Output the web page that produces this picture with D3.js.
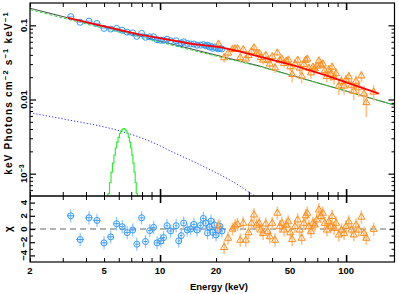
<!DOCTYPE html>
<html>
<head>
<meta charset="utf-8">
<script src="https://cdn.jsdelivr.net/npm/d3@7"></script>
<style>
  body { margin: 0; background: #fff; }
  svg { display: block; font-family: "Liberation Sans", Arial, sans-serif; }
</style>
</head>
<body>
<div id="chart"></div>
<script>
let width = 399;
let height = 294;

// model curves (energy in keV, keV Photons cm^-2 s^-1 keV^-1)
let totalE = [2, 5, 8, 20, 34, 60, 100, 182];
let totalF = [0.170, 0.0951, 0.0705, 0.0397, 0.0284, 0.0188, 0.0130, 0.0084];
let powE = [2, 5, 8, 20, 34, 60, 100, 182];
let powF = [0.163, 0.0908, 0.0678, 0.0385, 0.0280, 0.0187, 0.0130, 0.0084];
let bbE = [2, 3.27, 4.94, 6.06, 8.78, 12, 16.2, 20, 24.4, 31.2, 35];
let bbF = [0.00662, 0.00526, 0.0043, 0.00378, 0.00275, 0.0019, 0.00134, 0.00103, 0.00079, 0.00053, 0.00044];
let gaussE = [5.2, 5.3, 5.4, 5.5, 5.6, 5.7, 5.8, 5.9, 6.0, 6.1, 6.2, 6.3, 6.4, 6.5, 6.6, 6.7, 6.8, 6.9, 7.0, 7.1, 7.2, 7.3, 7.4, 7.5, 7.6];
let gaussF = [0.00037, 0.00054, 0.00076, 0.00105, 0.00139, 0.00178, 0.00222, 0.00266, 0.00309, 0.00348, 0.00378, 0.00397, 0.00404,
              0.00397, 0.00378, 0.00348, 0.00309, 0.00266, 0.00222, 0.00178, 0.00139, 0.00105, 0.00076, 0.00054, 0.00037];
let foldE = [3.2, 7.8, 15, 21, 26.6, 51, 78, 150];
let foldF = [0.126, 0.075, 0.056, 0.051, 0.0447, 0.0294, 0.0212, 0.0120];

// soft band spectrum (blue circles)
let blueE = [3.31, 3.72, 4.15, 4.58, 5.0, 5.43, 5.84, 6.26, 6.66, 7.13, 7.50, 7.96, 8.35, 8.8, 9.24, 9.64, 10.1, 10.45, 10.9, 11.4,
             12.2, 12.6, 13.0, 13.4, 14.0, 14.6, 15.2, 15.8, 16.5, 17.1, 17.6, 18.0, 18.4, 18.8, 19.2, 19.6, 20.0, 20.5, 21.0, 21.5];
let blueDE = [0.15, 0.17, 0.18, 0.2, 0.2, 0.2, 0.2, 0.2, 0.2, 0.2, 0.18, 0.2, 0.2, 0.2, 0.2, 0.2, 0.22, 0.18, 0.2, 0.25,
              0.2, 0.2, 0.2, 0.2, 0.3, 0.3, 0.3, 0.3, 0.3, 0.3, 0.2, 0.2, 0.2, 0.2, 0.2, 0.2, 0.2, 0.25, 0.25, 0.25];
let blueF = [0.131, 0.110, 0.114, 0.106, 0.091, 0.089, 0.091, 0.086, 0.081, 0.079, 0.071, 0.078, 0.069, 0.070, 0.070, 0.064, 0.063, 0.063, 0.065, 0.062,
             0.062, 0.057, 0.058, 0.060, 0.057, 0.056, 0.056, 0.054, 0.054, 0.055, 0.053, 0.054, 0.051, 0.052, 0.049, 0.051, 0.050, 0.048, 0.049, 0.048];
let blueChi = [2.0, -1.6, 1.7, 1.3, -2.1, -1.2, 0.8, 0.35, -0.55, -0.15, -2.3, 1.7, -1.9, -0.25, 0.25, -2.1, -1.8, -1.3, 0.5, -0.3,
               0.5, -1.8, -1.0, 0.9, -0.15, 0.0, 0.7, -0.15, 0.55, 1.6, 0.9, -0.6, 0.3, 1.2, -0.5, 0.6, -0.9, -0.2, 0.4, -0.3];

// hard band spectrum (orange triangles)
let orangeE = [20.6, 22.1, 23.2, 24.5, 25.3, 26.1, 27.0, 28.0, 28.9, 29.9, 31.0, 32.0, 33.0, 34.1, 34.8, 35.8, 37.0, 37.9, 38.9, 40.1,
               41.5, 42.7, 44.0, 45.1, 46.4, 47.7, 48.9, 50.1, 51.3, 53.1, 54.9, 56.3, 57.7, 59.3, 60.6, 61.8, 63.1, 64.7, 66.3, 67.9,
               69.6, 71.4, 73.2, 75.0, 76.8, 78.8, 80.7, 82.7, 84.1, 86.2, 88.3, 91.3, 94.4, 97.5, 99.9, 103.3, 106.8, 109.9, 113.0, 116.9,
               120.8, 124.7, 128.5, 140.6];
let orangeF = [0.0560, 0.0366, 0.0423, 0.0474, 0.0484, 0.0485, 0.0368, 0.0471, 0.0352, 0.0392, 0.0447, 0.0499, 0.0417, 0.0421, 0.0369, 0.0340, 0.0394, 0.0339, 0.0301, 0.0379,
               0.0267, 0.0425, 0.0337, 0.0351, 0.0307, 0.0329, 0.0342, 0.0277, 0.0218, 0.0301, 0.0339, 0.0266, 0.0207, 0.0298, 0.0339, 0.0352, 0.0264, 0.0229, 0.0273, 0.0259,
               0.0282, 0.0332, 0.0291, 0.0302, 0.0245, 0.0205, 0.0251, 0.0217, 0.0273, 0.0198, 0.0223, 0.0152, 0.0175, 0.0152, 0.0183, 0.0203, 0.0156, 0.0129, 0.0176, 0.0144,
               0.0208, 0.0119, 0.0091, 0.0126];
let orangeErr = [0.0054, 0.0051, 0.0049, 0.0047, 0.0046, 0.0045, 0.0044, 0.0043, 0.0042, 0.0042, 0.0049, 0.0048, 0.0047, 0.0046, 0.0045, 0.0044, 0.0043, 0.0043, 0.0042, 0.0041,
                 0.0040, 0.0040, 0.0039, 0.0038, 0.0038, 0.0037, 0.0036, 0.0036, 0.0047, 0.0046, 0.0044, 0.0044, 0.0043, 0.0042, 0.0041, 0.0041, 0.0040, 0.0039, 0.0038, 0.0038,
                 0.0037, 0.0036, 0.0036, 0.0035, 0.0034, 0.0034, 0.0041, 0.0040, 0.0040, 0.0039, 0.0038, 0.0037, 0.0036, 0.0035, 0.0034, 0.0033, 0.0032, 0.0031, 0.0037, 0.0036,
                 0.0035, 0.0034, 0.0033, 0.0030];
let orangeChi = [0.46, -2.8, -1.4, 0, 0.46, 0.7, -1.7, 0.87, -1.7, -0.56, 0.87, 2.14, 0.6, 0.87, -0.15, -0.66, 0.76, -0.4, -1.17, 0.87,
                 -1.7, 2.4, 0.36, 0.87, -0.15, 0.6, 1.1, -0.56, -1.6, 0.36, 1.38, -0.15, -1.4, 0.87, 2.0, 2.4, 0.36, -0.4, 0.87, 0.6,
                 1.38, 2.9, 1.9, 2.4, 0.87, -0.15, 1.1, 0.36, 1.9, 0.1, 0.87, -0.9, -0.15, -0.66, 0.36, 1.1, -0.15, -0.9, 0.6, -0.15,
                 1.8, -0.66, -1.4, -0.05];

// axis ticks and labels
let xMinor = [2, 3, 4, 5, 6, 7, 8, 9, 20, 30, 40, 50, 60, 70, 80, 90];
let xMajor = [10, 100];
let xLabels = [2, 5, 10, 20, 50, 100];
let yMajor = [0.001, 0.01, 0.1];
let resMajor = [-4, -2, 0, 2, 4];
let resMinor = [-3, -1, 1, 3];

let padL = 30, padR = 394.5, padT = 3, midY = 196, padB = 262;

let x = d3.scaleLog().domain([2, 182]).range([padL, padR]);
let yTop = d3.scaleLog().domain([5e-4, 0.2]).range([midY, padT]);
let yRes = d3.scaleLinear().domain([-5, 5]).range([padB, midY]);

let blueCol = "#3399ff", blueBar = "#8cc4ff";
let orangeCol = "#ff8c1a", orangeBar = "#ffbf80";

let svg = d3.select("#chart").append("svg")
  .attr("width", width)
  .attr("height", height);

let defs = svg.append("defs");
defs.append("clipPath").attr("id", "clipTop").append("rect")
  .attr("x", padL).attr("y", padT).attr("width", padR - padL).attr("height", midY - padT);
defs.append("clipPath").attr("id", "clipRes").append("rect")
  .attr("x", padL).attr("y", midY).attr("width", padR - padL).attr("height", padB - midY);

function pairs(a, b) {
  return a.map((v, i) => [v, b[i]]);
}

/* ---------- top panel ---------- */
let topG = svg.append("g").attr("clip-path", "url(#clipTop)");
let line = d3.line().x(d => x(d[0])).y(d => yTop(d[1]));

topG.append("path").datum(pairs(totalE, totalF))
  .attr("d", line).attr("fill", "none")
  .attr("stroke", "#4a4a4a").attr("stroke-width", 1);
topG.append("path").datum(pairs(powE, powF))
  .attr("d", line).attr("fill", "none")
  .attr("stroke", "#22dd22").attr("stroke-width", 1).attr("stroke-dasharray", "3,2");
topG.append("path").datum(pairs(bbE, bbF))
  .attr("d", d3.line().curve(d3.curveMonotoneX).x(d => x(d[0])).y(d => yTop(d[1])))
  .attr("fill", "none")
  .attr("stroke", "#2a2aff").attr("stroke-width", 1).attr("stroke-dasharray", "1.2,2");
topG.append("path").datum(pairs(gaussE, gaussF))
  .attr("d", d3.line().curve(d3.curveStep).x(d => x(d[0])).y(d => yTop(d[1])))
  .attr("fill", "none")
  .attr("stroke", "#33ee33").attr("stroke-width", 1.2);

let blue = blueE.map((e, i) => ({e: e, de: blueDE[i], f: blueF[i], chi: blueChi[i]}));
let orange = orangeE.map((e, i) => ({e: e, f: orangeF[i], err: orangeErr[i], chi: orangeChi[i]}));

let bTop = topG.append("g");
bTop.selectAll("line").data(blue).enter().append("line")
  .attr("x1", d => x(d.e - d.de)).attr("x2", d => x(d.e + d.de))
  .attr("y1", d => yTop(d.f)).attr("y2", d => yTop(d.f))
  .attr("stroke", blueBar).attr("stroke-width", 1.2);
bTop.selectAll("circle").data(blue).enter().append("circle")
  .attr("cx", d => x(d.e)).attr("cy", d => yTop(d.f)).attr("r", 3)
  .attr("fill", "none").attr("stroke", blueCol).attr("stroke-width", 1);

let tri = d3.symbol().type(d3.symbolTriangle).size(22);
let oTop = topG.append("g");
oTop.selectAll("line").data(orange).enter().append("line")
  .attr("x1", d => x(d.e)).attr("x2", d => x(d.e))
  .attr("y1", d => yTop(d.f - d.err)).attr("y2", d => yTop(d.f + d.err))
  .attr("stroke", orangeBar).attr("stroke-width", 1.6);
oTop.selectAll("path").data(orange).enter().append("path")
  .attr("d", tri)
  .attr("transform", d => `translate(${x(d.e)},${yTop(d.f)})`)
  .attr("fill", "none").attr("stroke", orangeCol).attr("stroke-width", 1);

topG.append("path").datum(pairs(foldE, foldF))
  .attr("d", line).attr("fill", "none")
  .attr("stroke", "#ff0000").attr("stroke-width", 1.8);

/* ---------- residual panel ---------- */
let resG = svg.append("g").attr("clip-path", "url(#clipRes)");
resG.append("line")
  .attr("x1", padL).attr("x2", padR)
  .attr("y1", yRes(0)).attr("y2", yRes(0))
  .attr("stroke", "#999").attr("stroke-width", 1.5).attr("stroke-dasharray", "6,4");

let bRes = resG.append("g");
bRes.selectAll("line.bv").data(blue).enter().append("line").attr("class", "bv")
  .attr("x1", d => x(d.e)).attr("x2", d => x(d.e))
  .attr("y1", d => yRes(d.chi - 1)).attr("y2", d => yRes(d.chi + 1))
  .attr("stroke", blueBar).attr("stroke-width", 1.2);
bRes.selectAll("line.bh").data(blue).enter().append("line").attr("class", "bh")
  .attr("x1", d => x(d.e - d.de)).attr("x2", d => x(d.e + d.de))
  .attr("y1", d => yRes(d.chi)).attr("y2", d => yRes(d.chi))
  .attr("stroke", blueCol).attr("stroke-width", 1);
bRes.selectAll("circle").data(blue).enter().append("circle")
  .attr("cx", d => x(d.e)).attr("cy", d => yRes(d.chi)).attr("r", 3)
  .attr("fill", "none").attr("stroke", blueCol).attr("stroke-width", 1);

let oRes = resG.append("g");
oRes.selectAll("line").data(orange).enter().append("line")
  .attr("x1", d => x(d.e)).attr("x2", d => x(d.e))
  .attr("y1", d => yRes(d.chi - 1)).attr("y2", d => yRes(d.chi + 1))
  .attr("stroke", orangeBar).attr("stroke-width", 1.6);
oRes.selectAll("path").data(orange).enter().append("path")
  .attr("d", tri)
  .attr("transform", d => `translate(${x(d.e)},${yRes(d.chi)})`)
  .attr("fill", "none").attr("stroke", orangeCol).attr("stroke-width", 1);

/* ---------- frames and ticks ---------- */
svg.append("rect").attr("x", padL).attr("y", padT).attr("width", padR - padL).attr("height", padB - padT)
  .attr("fill", "none").attr("stroke", "#000").attr("stroke-width", 1.2);
svg.append("line").attr("x1", padL).attr("x2", padR).attr("y1", midY).attr("y2", midY)
  .attr("stroke", "#000").attr("stroke-width", 1.5);

function ticks(pos, axis, vals, size, sw) {
  let g = svg.append("g").attr("transform", pos)
    .call(axis.tickValues(vals).tickSizeInner(-size).tickSizeOuter(0).tickFormat(""));
  g.select(".domain").remove();
  g.selectAll("line").attr("stroke", "#000").attr("stroke-width", sw);
  return g;
}

let yMinor = [];
[1e-4, 1e-3, 1e-2, 1e-1].forEach(dec => {
  for (let m = 2; m <= 9; m++) {
    let v = m * dec;
    if (v > 5e-4 && v < 0.2) yMinor.push(v);
  }
});

// x ticks on each horizontal frame line
[[`translate(0,${padT})`, d3.axisTop], [`translate(0,${midY})`, d3.axisBottom],
 [`translate(0,${midY})`, d3.axisTop], [`translate(0,${padB})`, d3.axisBottom]].forEach(p => {
  ticks(p[0], p[1](x), xMinor, 4, 1);
  ticks(p[0], p[1](x), xMajor, 7, 1.6);
});

// y ticks, top panel
ticks(`translate(${padL},0)`, d3.axisLeft(yTop), yMinor, 3, 1);
ticks(`translate(${padL},0)`, d3.axisLeft(yTop), yMajor, 6, 1.2);
ticks(`translate(${padR},0)`, d3.axisRight(yTop), yMinor, 3, 1);
ticks(`translate(${padR},0)`, d3.axisRight(yTop), yMajor, 6, 1.2);
// y ticks, residual panel
ticks(`translate(${padL},0)`, d3.axisLeft(yRes), resMinor, 3, 1);
ticks(`translate(${padL},0)`, d3.axisLeft(yRes), resMajor, 5, 1.2);
ticks(`translate(${padR},0)`, d3.axisRight(yRes), resMinor, 3, 1);
ticks(`translate(${padR},0)`, d3.axisRight(yRes), resMajor, 5, 1.2);

/* ---------- labels ---------- */
svg.append("g").selectAll("text").data(xLabels).enter().append("text")
  .attr("x", d => x(d)).attr("y", padB + 11.5)
  .attr("text-anchor", "middle")
  .attr("font-size", 9.5).attr("font-weight", "bold")
  .text(d => d);

function rotLabel(xp, yp, size) {
  return svg.append("text")
    .attr("transform", `translate(${xp},${yp}) rotate(-90)`)
    .attr("text-anchor", "middle")
    .attr("font-size", size).attr("font-weight", "bold");
}

yMajor.forEach(v => {
  let t = rotLabel(padL - 3, yTop(v), 9.5);
  if (v === 0.001) {
    t.append("tspan").text("10");
    t.append("tspan").attr("dy", -3.5).attr("font-size", 7).text("\u22123");
  } else {
    t.text(v === 0.1 ? "0.1" : "0.01");
  }
});

resMajor.forEach(v => {
  rotLabel(padL - 3, yRes(v), 9.5).text(v < 0 ? "\u2212" + Math.abs(v) : v);
});

svg.append("text")
  .attr("x", 219).attr("y", 289.5)
  .attr("text-anchor", "middle")
  .attr("font-size", 9.5).attr("font-weight", "bold")
  .text("Energy (keV)");

// y title, PGPLOT-like wide spacing
let yl = rotLabel(11.5, 93, 10).attr("letter-spacing", 1.2);
yl.append("tspan").text("keV Photons cm");
yl.append("tspan").attr("dy", -3.5).attr("font-size", 7.5).text("\u22122");
yl.append("tspan").attr("dy", 3.5).text(" s");
yl.append("tspan").attr("dy", -3.5).attr("font-size", 7.5).text("\u22121");
yl.append("tspan").attr("dy", 3.5).text(" keV");
yl.append("tspan").attr("dy", -3.5).attr("font-size", 7.5).text("\u22121");

rotLabel(11.5, yRes(0), 10).text("\u03c7");
</script>
</body>
</html>
